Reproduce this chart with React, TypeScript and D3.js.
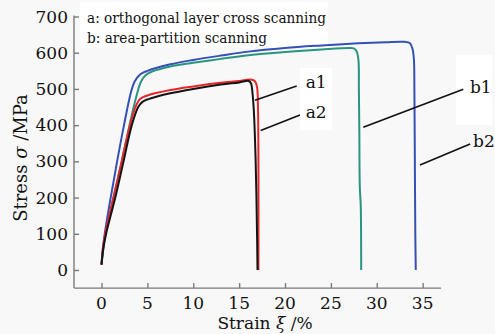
import * as React from "react";
import * as d3 from "d3";

// strain (%), stress (MPa)
const curveA1 = [
  [0, 15], [0.2, 60], [0.5, 100], [1.5, 200], [2.4, 300], [3.3, 400], [4.0, 450],
  [4.5, 465], [5.5, 475], [7.5, 488], [10, 500], [13, 512], [15, 518], [16.05, 522],
  [16.3, 515], [16.45, 490], [16.6, 440], [16.8, 300], [16.95, 100], [17.0, 0],
];
const curveA2 = [
  [0, 15], [0.15, 60], [0.4, 100], [1.3, 200], [2.2, 300], [3.1, 400], [3.7, 450],
  [4.2, 472], [5, 482], [7.5, 497], [10, 507], [13, 517], [15, 522], [16.2, 526],
  [16.7, 522], [16.95, 505], [17.05, 450], [17.1, 300], [17.1, 0],
];
const curveB1 = [
  [0, 15], [0.2, 60], [0.45, 100], [1.3, 200], [2.2, 300], [3.05, 400], [3.8, 480],
  [4.3, 520], [4.8, 538], [5.5, 548], [7.5, 562], [10, 572], [13, 583], [16, 593],
  [20, 602], [24, 609], [27, 613], [27.5, 612], [27.8, 604], [28.0, 580], [28.05, 500],
  [28.1, 380], [28.15, 230], [28.25, 180], [28.3, 0],
];
const curveB2 = [
  [0, 15], [0.15, 60], [0.35, 100], [1.0, 200], [1.7, 300], [2.45, 400], [3.2, 490],
  [3.6, 520], [4.2, 540], [5, 550], [7.5, 568], [10, 580], [13, 592], [16, 603],
  [20, 613], [24, 620], [28, 626], [31, 629], [33, 630], [33.6, 627], [33.9, 610],
  [34.05, 580], [34.1, 500], [34.15, 300], [34.2, 100], [34.25, 0],
];

const seriesNames = ["a1", "a2", "b1", "b2"];
const seriesColors = ["#141414", "#e8262a", "#2a9482", "#3450b4"];
const seriesData = [curveA1, curveA2, curveB1, curveB2];

// leader line [from, to] and label position, in data units
const leaders = [
  [[16.73, 469], [21.27, 508]],
  [[17.35, 385], [21.63, 428]],
  [[28.53, 394], [39.43, 499]],
  [[34.71, 290], [40.17, 348]],
];
const labelPos = [[22.25, 503], [22.25, 420], [40.16, 489], [40.5, 340]];

const legendLines = ["a: orthogonal layer cross scanning", "b: area-partition scanning"];
const xTicks = [0, 5, 10, 15, 20, 25, 30, 35];
const yTicks = [0, 100, 200, 300, 400, 500, 600, 700];

const W = 495;
const H = 334;
const font = "DejaVu Serif, serif";

export default function App() {
  const ref = React.useRef<SVGSVGElement>(null);

  React.useEffect(() => {
    const svg = d3.select(ref.current);
    svg.selectAll("*").remove();

    const x = d3.scaleLinear().domain([-3, 37]).range([74, 441]);
    const y = d3.scaleLinear().domain([-50, 700]).range([288.1, 16.5]);

    svg.append("rect").attr("width", W).attr("height", H).attr("fill", "#f8f8f8");
    // white patches behind the text blocks
    svg.append("rect").attr("x", 80).attr("y", 2).attr("width", 248).attr("height", 46).attr("fill", "#fff");
    svg.append("rect").attr("x", 300).attr("y", 68).attr("width", 32).attr("height", 62).attr("fill", "#fff");
    svg.append("rect").attr("x", 456).attr("y", 55).attr("width", 36).attr("height", 70).attr("fill", "#fff");

    const axisColor = "#7a7a7a";

    // y axis
    const gy = svg.append("g").attr("transform", `translate(${x(-3)},0)`);
    gy.call(
      d3.axisLeft(y).tickValues(d3.range(-50, 701, 50)).tickSize(-3).tickFormat(() => "")
    );
    gy.call(d3.axisLeft(y).tickValues(yTicks).tickSize(-5).tickFormat(() => ""));
    gy.selectAll("path, line").attr("stroke", axisColor).attr("stroke-width", 1.4);
    gy.select(".domain").attr("d", `M0,${y(-50)}V${y(700) - 1}`);

    // x axis
    const gx = svg.append("g").attr("transform", `translate(0,${y(-50)})`);
    gx.call(
      d3.axisBottom(x).tickValues(d3.range(-2.5, 37, 2.5)).tickSize(-3).tickFormat(() => "")
    );
    gx.call(d3.axisBottom(x).tickValues(xTicks).tickSize(-5).tickFormat(() => ""));
    gx.selectAll("path, line").attr("stroke", axisColor).attr("stroke-width", 1.4);
    gx.select(".domain").attr("d", `M${x(-3)},0H${x(37)}`);

    // tick labels
    svg
      .selectAll(".ylab")
      .data(yTicks)
      .join("text")
      .attr("x", 68)
      .attr("y", (d) => y(d) + 6)
      .attr("text-anchor", "end")
      .attr("font-family", font)
      .attr("font-size", 17)
      .attr("fill", "#111")
      .text((d) => d);
    svg
      .selectAll(".xlab")
      .data(xTicks)
      .join("text")
      .attr("x", (d) => x(d))
      .attr("y", 309)
      .attr("text-anchor", "middle")
      .attr("font-family", font)
      .attr("font-size", 17)
      .attr("fill", "#111")
      .text((d) => d);

    // axis titles
    const xt = svg
      .append("text")
      .attr("x", 265)
      .attr("y", 329)
      .attr("text-anchor", "middle")
      .attr("font-family", font)
      .attr("font-size", 17)
      .attr("fill", "#111");
    xt.append("tspan").text("Strain ");
    xt.append("tspan").attr("font-style", "italic").text("ξ");
    xt.append("tspan").text(" /%");

    const yt = svg
      .append("text")
      .attr("transform", `translate(27,158) rotate(-90)`)
      .attr("text-anchor", "middle")
      .attr("font-family", font)
      .attr("font-size", 18)
      .attr("fill", "#111");
    yt.append("tspan").text("Stress ");
    yt.append("tspan").attr("font-style", "italic").text("σ");
    yt.append("tspan").text(" /MPa");

    // legend text
    svg
      .selectAll(".leg")
      .data(legendLines)
      .join("text")
      .attr("x", 87)
      .attr("y", (d, i) => 23 + i * 20)
      .attr("font-family", font)
      .attr("font-size", 14)
      .attr("textLength", (d, i) => (i === 0 ? 239 : 180))
      .attr("lengthAdjust", "spacingAndGlyphs")
      .attr("fill", "#111")
      .text((d) => d);

    // curves
    const line = d3
      .line<number[]>()
      .x((d) => x(d[0]))
      .y((d) => y(d[1]))
      .curve(d3.curveCatmullRom.alpha(0.5));

    const order = [2, 3, 1, 0];
    order.forEach((i) => {
      svg
        .append("path")
        .attr("d", line(seriesData[i] as number[][]))
        .attr("fill", "none")
        .attr("stroke", seriesColors[i])
        .attr("stroke-width", 2)
        .attr("stroke-linejoin", "round");
    });

    // leader lines and labels
    leaders.forEach(([a, b]) => {
      svg
        .append("line")
        .attr("x1", x(a[0]))
        .attr("y1", y(a[1]))
        .attr("x2", x(b[0]))
        .attr("y2", y(b[1]))
        .attr("stroke", "#111")
        .attr("stroke-width", 1.6);
    });
    svg
      .selectAll(".lab")
      .data(seriesNames)
      .join("text")
      .attr("x", (d, i) => x(labelPos[i][0]))
      .attr("y", (d, i) => y(labelPos[i][1]))
      .attr("font-family", font)
      .attr("font-size", 17)
      .attr("fill", "#111")
      .text((d) => d);
  }, []);

  return (
    <div style={{ position: "fixed", left: 0, top: 0 }}>
      <svg ref={ref} width={W} height={H} style={{ display: "block" }} />
    </div>
  );
}
